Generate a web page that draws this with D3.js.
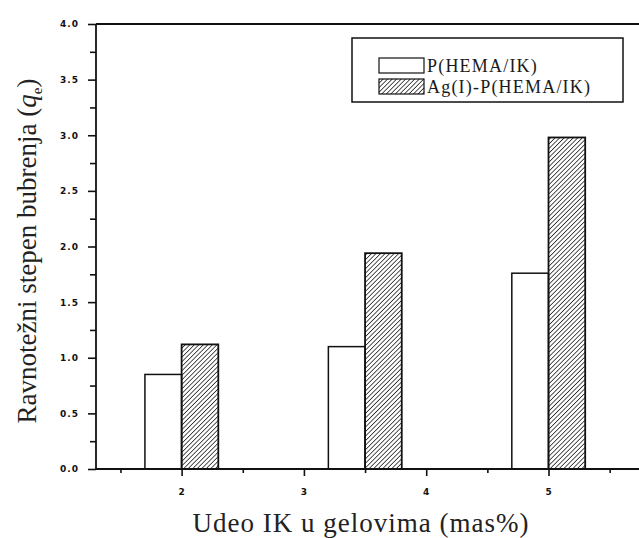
<!DOCTYPE html>
<html>
<head>
<meta charset="utf-8">
<script src="https://cdn.jsdelivr.net/npm/d3@7"></script>
<style>
    html, body { margin: 0; padding: 0; background: #fff; }
    svg { display: block; }
</style>
</head>
<body>
<div id="chart"></div>
<script>
// --- Data ---
const groupX = [2, 3.5, 5];                 // IK content of the gels (mas%)
const plainValues = [0.85, 1.10, 1.76];     // P(HEMA/IK)
const silverValues = [1.12, 1.94, 2.98];    // Ag(I)-P(HEMA/IK)
const seriesNames = ["P(HEMA/IK)", "Ag(I)-P(HEMA/IK)"];
const yTickValues = [0, 0.5, 1, 1.5, 2, 2.5, 3, 3.5, 4];
const yMinorValues = [0.25, 0.75, 1.25, 1.75, 2.25, 2.75, 3.25, 3.75];
const xTickValues = [2, 3, 4, 5];
const xMinorValues = [1.5, 2.5, 3.5, 4.5, 5.5];

const W = 639, H = 538;
const plotLeft = 96, plotBottom = 469, plotTop = 24;

const svg = d3.select("#chart").append("svg")
    .attr("width", W)
    .attr("height", H);

// hatch for the silver series
const defs = svg.append("defs");
defs.append("pattern")
    .attr("id", "hatch")
    .attr("patternUnits", "userSpaceOnUse")
    .attr("width", 3.2).attr("height", 4)
    .attr("patternTransform", "rotate(45)")
    .append("line")
    .attr("x1", 0).attr("y1", 0).attr("x2", 0).attr("y2", 4)
    .attr("stroke", "#1a1a1a").attr("stroke-width", 1.5);

const x = d3.scaleLinear().domain([1.3, 5.8]).range([plotLeft, plotLeft + 4.5 * 122.3]);
const y = d3.scaleLinear().domain([0, 4]).range([plotBottom, plotTop]);
const barW = x(2.3) - x(2);

// --- Bars ---
const bars = svg.append("g");
bars.selectAll(".plain")
    .data(groupX)
    .enter().append("rect")
    .attr("class", "plain")
    .attr("x", (d) => x(d) - barW)
    .attr("y", (d, i) => y(plainValues[i]))
    .attr("width", barW)
    .attr("height", (d, i) => y(0) - y(plainValues[i]))
    .attr("fill", "#fff")
    .attr("stroke", "#111")
    .attr("stroke-width", 1.5);

bars.selectAll(".silver")
    .data(groupX)
    .enter().append("rect")
    .attr("class", "silver")
    .attr("x", (d) => x(d))
    .attr("y", (d, i) => y(silverValues[i]))
    .attr("width", barW)
    .attr("height", (d, i) => y(0) - y(silverValues[i]))
    .attr("fill", "url(#hatch)")
    .attr("stroke", "#111")
    .attr("stroke-width", 1.8);

// --- Axes ---
const tickFont = (g) => g.selectAll("text")
    .attr("font-family", "DejaVu Sans, sans-serif")
    .attr("font-weight", "bold")
    .attr("font-size", 9)
    .attr("letter-spacing", 1)
    .attr("fill", "#111");

const yAxis = svg.append("g")
    .attr("transform", `translate(${plotLeft},0)`)
    .call(d3.axisLeft(y).tickValues(yTickValues).tickSize(8).tickPadding(9)
        .tickFormat(d3.format(".1f")));
yAxis.call(tickFont);
yAxis.select(".domain").remove();

svg.append("g")
    .attr("transform", `translate(${plotLeft},0)`)
    .call(d3.axisLeft(y).tickValues(yMinorValues).tickSize(6).tickFormat(""))
    .select(".domain").remove();

const xAxis = svg.append("g")
    .attr("transform", `translate(0,${plotBottom})`)
    .call(d3.axisBottom(x).tickValues(xTickValues).tickSize(7).tickPadding(13)
        .tickFormat(d3.format("d")));
xAxis.call(tickFont);
xAxis.select(".domain").remove();

svg.append("g")
    .attr("transform", `translate(0,${plotBottom})`)
    .call(d3.axisBottom(x).tickValues(xMinorValues).tickSize(4).tickFormat(""))
    .select(".domain").remove();

svg.selectAll(".tick line").attr("stroke", "#111").attr("stroke-width", 1.6);

// frame lines: left, bottom, top (no right border in the original)
const frame = svg.append("g").attr("stroke", "#111").attr("stroke-width", 1.8);
frame.append("line").attr("x1", plotLeft).attr("x2", plotLeft).attr("y1", y(4)).attr("y2", y(0));
frame.append("line").attr("x1", plotLeft).attr("x2", W).attr("y1", y(0)).attr("y2", y(0));
frame.append("line").attr("x1", plotLeft).attr("x2", W).attr("y1", y(4)).attr("y2", y(4));

// --- Axis titles ---
svg.append("text")
    .attr("x", 361)
    .attr("y", 532)
    .attr("text-anchor", "middle")
    .attr("font-family", "Liberation Serif, serif")
    .attr("font-size", 27)
    .attr("letter-spacing", 1)
    .attr("fill", "#222")
    .text("Udeo IK u gelovima (mas%)");

const yTitle = svg.append("text")
    .attr("transform", `translate(36,251) rotate(-90)`)
    .attr("text-anchor", "middle")
    .attr("font-family", "Liberation Serif, serif")
    .attr("font-size", 27)
    .attr("fill", "#222");
yTitle.append("tspan").text("Ravnotežni stepen bubrenja (");
yTitle.append("tspan").attr("font-style", "italic").text("q");
yTitle.append("tspan").attr("font-size", 15).attr("dy", 6).text("e");
yTitle.append("tspan").attr("dy", -6).text(")");

// --- Legend ---
const legend = svg.append("g");
legend.append("rect")
    .attr("x", 352).attr("y", 38)
    .attr("width", 271).attr("height", 64)
    .attr("fill", "#fff")
    .attr("stroke", "#111")
    .attr("stroke-width", 1.5);

const fills = ["#fff", "url(#hatch)"];
seriesNames.forEach((name, i) => {
    legend.append("rect")
        .attr("x", 379).attr("y", 58 + i * 21)
        .attr("width", 45).attr("height", 15)
        .attr("fill", fills[i])
        .attr("stroke", "#111")
        .attr("stroke-width", 1.2);
    legend.append("text")
        .attr("x", 427).attr("y", 72 + i * 20.5)
        .attr("font-family", "Liberation Serif, serif")
        .attr("font-size", 18)
        .attr("letter-spacing", 1.2)
        .attr("fill", "#1a1a1a")
        .text(name);
});
</script>
</body>
</html>
